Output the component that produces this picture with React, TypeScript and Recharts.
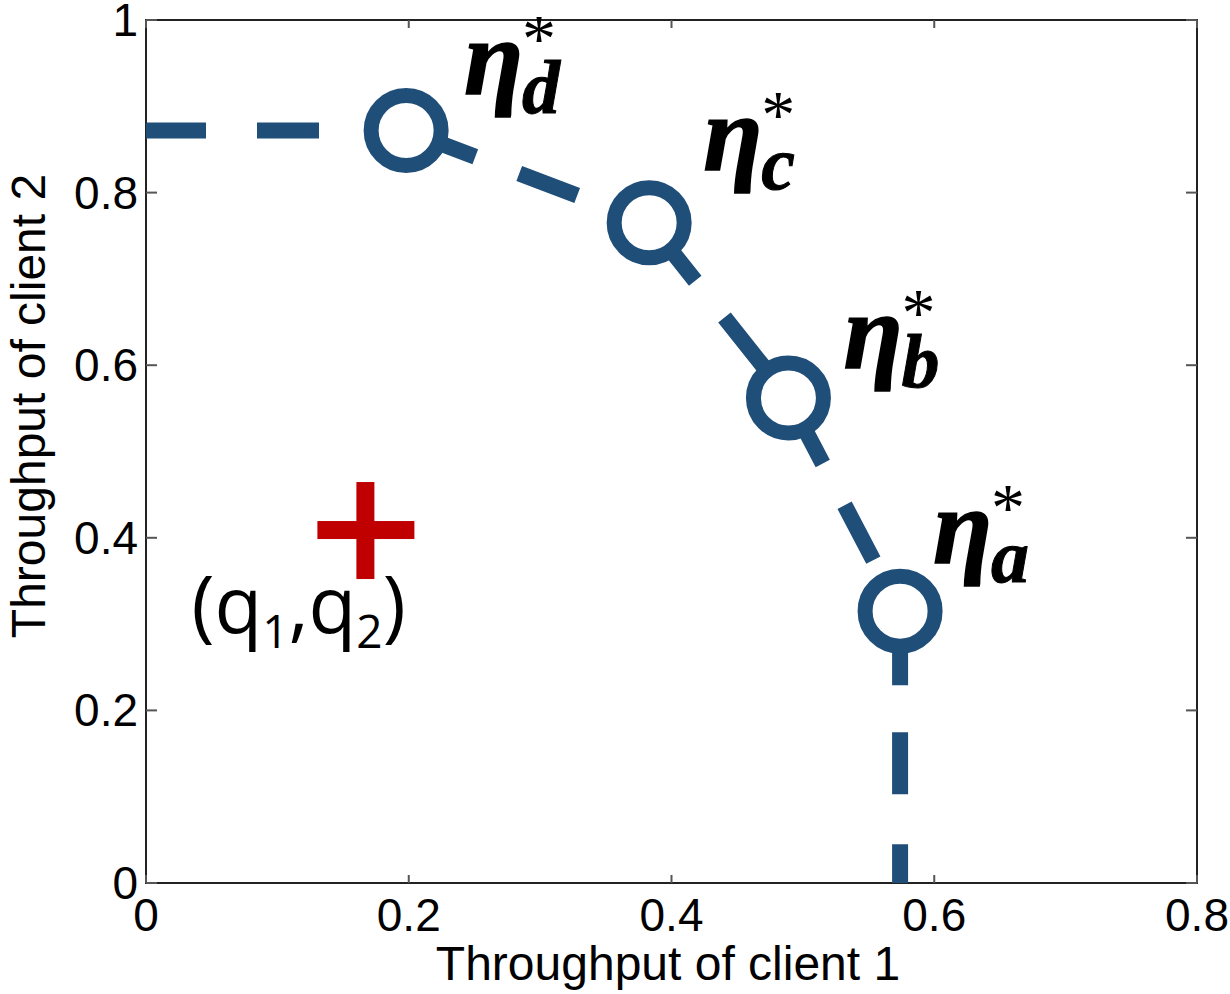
import React from 'react';
import {
  ComposedChart,
  Line,
  Scatter,
  XAxis,
  YAxis,
  ReferenceArea,
} from 'recharts';

// operating frontier (throughput of client 1 vs client 2)
const frontierX = [0, 0.198, 0.383, 0.489, 0.574, 0.574];
const frontierY = [0.872, 0.872, 0.765, 0.562, 0.315, 0];

// optimal points on the frontier
const optimumNames = ['d', 'c', 'b', 'a'];
const optimumX = [0.198, 0.383, 0.489, 0.574];
const optimumY = [0.872, 0.765, 0.562, 0.315];

// demand point (q1, q2)
const demandX = [0.167];
const demandY = [0.409];

const xTicks = [0, 0.2, 0.4, 0.6, 0.8];
const yTicks = [0, 0.2, 0.4, 0.6, 0.8, 1];

const W = 1230;
const H = 994;
const MARGIN = { top: 20, right: 33, left: 0, bottom: 0 };
const Y_AXIS_W = 146;
const X_AXIS_H = 111;
const PLOT_LEFT = MARGIN.left + Y_AXIS_W;
const PLOT_RIGHT = W - MARGIN.right;
const PLOT_TOP = MARGIN.top;
const PLOT_BOTTOM = H - X_AXIS_H;

const BLUE = '#1F4E79';
const RED = '#C00000';
const SANS = '"Liberation Sans", Arial, sans-serif';
const SERIF = '"Liberation Serif", "Times New Roman", serif';

// where each eta label sits relative to its marker
const labelOffsets = [
  { dx: 58, dy: -17 },
  { dx: 54, dy: -34 },
  { dx: 55, dy: -11 },
  { dx: 33, dy: -29 },
];

const segments = frontierX.slice(1).map((_, i) => [
  { x: frontierX[i], y: frontierY[i] },
  { x: frontierX[i + 1], y: frontierY[i + 1] },
]);

const optimumData = optimumX.map((x, i) => ({ x, y: optimumY[i], name: optimumNames[i], idx: i }));
const demandData = demandX.map((x, i) => ({ x, y: demandY[i] }));

const XTick = (props: any) => {
  const x = props.payload.coordinate;
  return (
    <g>
      <line x1={x} x2={x} y1={PLOT_BOTTOM} y2={PLOT_BOTTOM - 8} stroke="#555" strokeWidth={2} />
      <line x1={x} x2={x} y1={PLOT_TOP} y2={PLOT_TOP + 8} stroke="#555" strokeWidth={2} />
      <text x={x} y={931} textAnchor="middle" fontFamily={SANS} fontSize={46} fill="#000">
        {props.payload.value}
      </text>
    </g>
  );
};

const YTick = (props: any) => {
  const y = props.payload.coordinate;
  return (
    <g>
      <line x1={PLOT_LEFT} x2={PLOT_LEFT + 11} y1={y} y2={y} stroke="#555" strokeWidth={2} />
      <line x1={PLOT_RIGHT - 11} x2={PLOT_RIGHT} y1={y} y2={y} stroke="#555" strokeWidth={2} />
      <text x={PLOT_LEFT - 8} y={y + 16} textAnchor="end" fontFamily={SANS} fontSize={46} fill="#000">
        {props.payload.value}
      </text>
    </g>
  );
};

const OptimumMarker = (props: any) => {
  const { cx, cy, payload } = props;
  const off = labelOffsets[payload.idx];
  const lx = cx + off.dx;
  const sb = cy + off.dy;
  return (
    <g>
      <circle cx={cx} cy={cy} r={35} fill="#fff" stroke={BLUE} strokeWidth={15} />
      <text
        x={lx}
        y={sb - 19}
        fontFamily={SERIF}
        fontStyle="italic"
        fontWeight="bold"
        fontSize={108}
        fill="#000"
        stroke="#000"
        strokeWidth={1.5}
      >
        η
      </text>
      <text
        x={lx + 58}
        y={sb}
        fontFamily={SERIF}
        fontStyle="italic"
        fontWeight="bold"
        fontSize={76}
        fill="#000"
        stroke="#000"
        strokeWidth={1}
      >
        {payload.name}
      </text>
      <text x={lx + 58} y={sb - 52} fontFamily={SERIF} fontSize={68} fill="#000">
        *
      </text>
    </g>
  );
};

const DemandMarker = (props: any) => {
  const { cx, cy } = props;
  return (
    <g>
      <rect x={cx - 48} y={cy - 9} width={97} height={18} fill={RED} />
      <rect x={cx - 9} y={cy - 48} width={18} height={97} fill={RED} />
      <text x={cx - 174} y={cy + 103} fontFamily='"Open Sans", sans-serif' fontSize={78} fill="#000">
        (q<tspan fontSize={46} dy={15}>1</tspan>
        <tspan dy={-15}>,q</tspan>
        <tspan fontSize={46} dy={15}>2</tspan>
        <tspan dy={-15}>)</tspan>
      </text>
    </g>
  );
};

export default function App() {
  return (
    <div style={{ position: 'absolute', left: 0, top: 0, background: '#fff' }}>
      <ComposedChart width={W} height={H} margin={MARGIN}>
        <XAxis
          dataKey="x"
          type="number"
          domain={[0, 0.8]}
          ticks={xTicks}
          height={X_AXIS_H}
          axisLine={false}
          tickLine={false}
          tick={XTick}
          label={() => (
            <text x={668} y={980} textAnchor="middle" fontFamily={SANS} fontSize={48} fill="#000">
              Throughput of client 1
            </text>
          )}
        />
        <YAxis
          dataKey="y"
          type="number"
          domain={[0, 1]}
          ticks={yTicks}
          width={Y_AXIS_W}
          axisLine={false}
          tickLine={false}
          tick={YTick}
          label={() => (
            <text
              x={45}
              y={406}
              transform="rotate(-90, 45, 406)"
              textAnchor="middle"
              fontFamily={SANS}
              fontSize={48}
              fill="#000"
            >
              Throughput of client 2
            </text>
          )}
        />
        <ReferenceArea x1={0} x2={0.8} y1={0} y2={1} fill="none" stroke="#222" strokeWidth={2} />
        {segments.map((seg, i) => (
          <Line
            key={`seg-${i}`}
            data={seg}
            dataKey="y"
            type="linear"
            stroke={BLUE}
            strokeWidth={16}
            strokeDasharray={i === 0 ? '60 51 62 51' : '74 47 62 50 62 50'}
            dot={false}
            activeDot={false}
            isAnimationActive={false}
          />
        ))}
        <Scatter data={optimumData} dataKey="y" shape={OptimumMarker} isAnimationActive={false} />
        <Scatter data={demandData} dataKey="y" shape={DemandMarker} isAnimationActive={false} />
      </ComposedChart>
    </div>
  );
}
